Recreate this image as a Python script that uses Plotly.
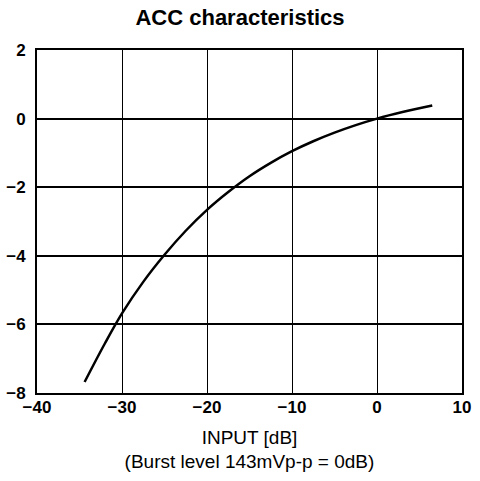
import plotly.graph_objects as go

input_db = [-34.4, -32, -30, -27.5, -25, -22.5, -20, -17.5, -15, -12.5, -10, -7.5, -5, -2.5, 0, 3, 6.5]
output_db = [-7.68, -6.55, -5.68, -4.76, -3.97, -3.27, -2.66, -2.14, -1.68, -1.29, -0.95, -0.66, -0.41, -0.19, 0.0, 0.19, 0.38]
x_ticks = [-40, -30, -20, -10, 0, 10]
y_ticks = [-8, -6, -4, -2, 0, 2]

fig = go.Figure()
fig.add_trace(go.Scatter(x=input_db, y=output_db, mode="lines",
                         line=dict(color="black", width=2.5, shape="spline"),
                         showlegend=False))

font = "Liberation Sans, Arial, sans-serif"
fig.update_layout(
    width=480, height=481,
    margin=dict(l=37, r=18, t=50, b=88),
    paper_bgcolor="white", plot_bgcolor="white",
    title=dict(text="<b>ACC characteristics</b>", x=0.5, xanchor="center",
               y=1 - 17 / 481, yanchor="middle", font=dict(family=font, size=22, color="black")),
    font=dict(family=font, color="black"),
)
fig.update_xaxes(range=[-40, 10], tickvals=x_ticks, showgrid=True, gridcolor="black",
                 gridwidth=1, showline=True, linecolor="black", linewidth=2, mirror=True,
                 zeroline=False, ticks="", automargin=False, ticklabelstandoff=-2,
                 tickfont=dict(size=17, family=font, weight="bold"),
                 title=dict(text="INPUT [dB]<br>(Burst level 143mVp-p = 0dB)",
                            font=dict(size=19, family=font), standoff=14))
fig.update_yaxes(range=[-8, 2], tickvals=y_ticks, showgrid=True, gridcolor="black",
                 gridwidth=1.5, showline=True, linecolor="black", linewidth=2, mirror=True,
                 zeroline=False, ticks="", ticklabelstandoff=6, automargin=False,
                 tickfont=dict(size=17, family=font, weight="bold"))

fig.write_html("out.html", post_script="document.body.style.margin='0';",
               config={"displayModeBar": False})
